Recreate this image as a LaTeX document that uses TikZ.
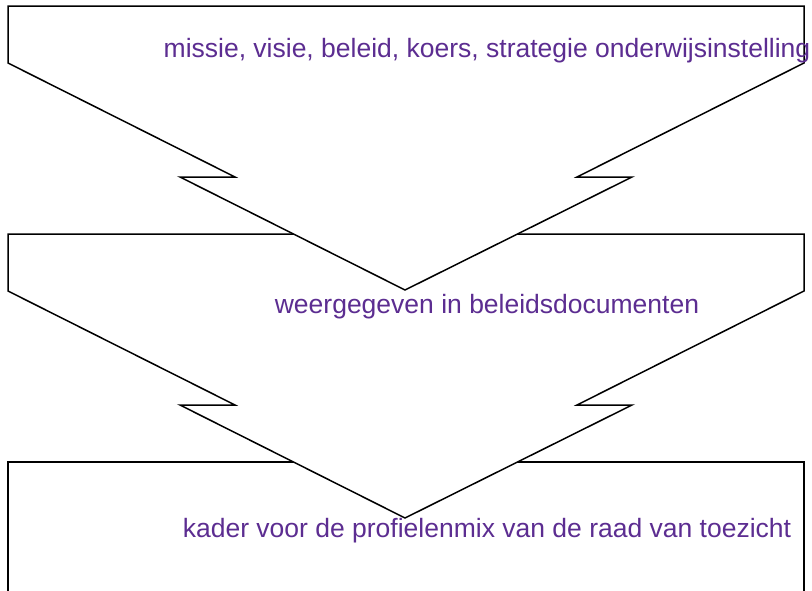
\documentclass[tikz,border=0pt]{standalone}
\usepackage{fontspec}
\setmainfont{Liberation Sans}

\begin{document}
\begin{tikzpicture}[x=1pt,y=-1pt,line width=1.5pt,
    lbl/.style={text=purple, anchor=base, inner sep=0pt, font=\fontsize{26.5}{30}\selectfont}]
  \colorlet{purple}{rgb,255:red,92;green,45;blue,145}
  \useasboundingbox (0,0) rectangle (812,590);
  \clip (0,0) rectangle (812,590);
  % bottom box
  \draw (8,600) -- (8,462) -- (804,462) -- (804,600);
  % the two chevrons, lower one first
  \foreach \dy in {228,0}
    \filldraw[fill=white] (8,6+\dy) -- (8,63+\dy) -- (235,177+\dy) -- (180,177+\dy)
      -- (405,290+\dy) -- (632,177+\dy) -- (577,177+\dy) -- (804,63+\dy)
      -- (804,6+\dy) -- cycle;
  \node[lbl] (missie) at (487,57) {missie, visie, beleid, koers, strategie onderwijsinstelling};
  \node[lbl] (beleid) at (487,313) {weergegeven in beleidsdocumenten};
  \node[lbl] (kader) at (487,537) {kader voor de profielenmix van de raad van toezicht};
\end{tikzpicture}
\end{document}
